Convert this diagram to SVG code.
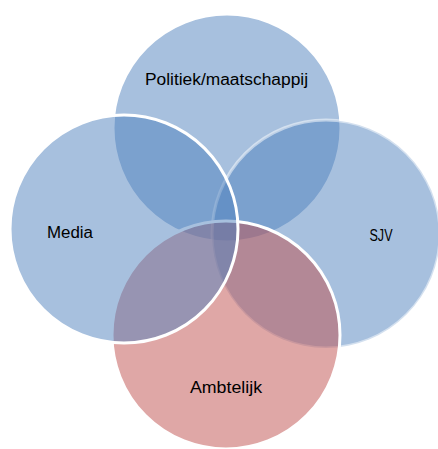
<svg xmlns="http://www.w3.org/2000/svg" width="438" height="449" viewBox="0 0 438 449">
<style>
.c{stroke:#fff;stroke-width:3}
.b{fill:#4f81bd;fill-opacity:0.5}
.r{fill:#c0504d;fill-opacity:0.5}
text{font-family:"Liberation Sans",Arial,sans-serif;font-size:16px;fill:#000;text-anchor:middle}
</style>
<rect width="438" height="449" fill="#fff"/>
<g id="politiek"><circle class="c b" cx="227" cy="128" r="114"/></g>
<g id="sjv"><circle class="b" cx="326" cy="234" r="114" stroke="#fff" stroke-opacity="0.5" stroke-width="3"/></g>
<g id="ambtelijk"><circle class="c r" cx="226" cy="335" r="114"/></g>
<g id="media"><circle class="c b" cx="124" cy="229" r="114"/></g>
<g id="labels">
<text x="226.5" y="85" textLength="163" lengthAdjust="spacingAndGlyphs">Politiek/maatschappij</text>
<text x="70" y="238" textLength="46" lengthAdjust="spacingAndGlyphs">Media</text>
<text x="381" y="241" textLength="23" lengthAdjust="spacingAndGlyphs">SJV</text>
<text x="226" y="393" textLength="72" lengthAdjust="spacingAndGlyphs">Ambtelijk</text>
</g>
</svg>
